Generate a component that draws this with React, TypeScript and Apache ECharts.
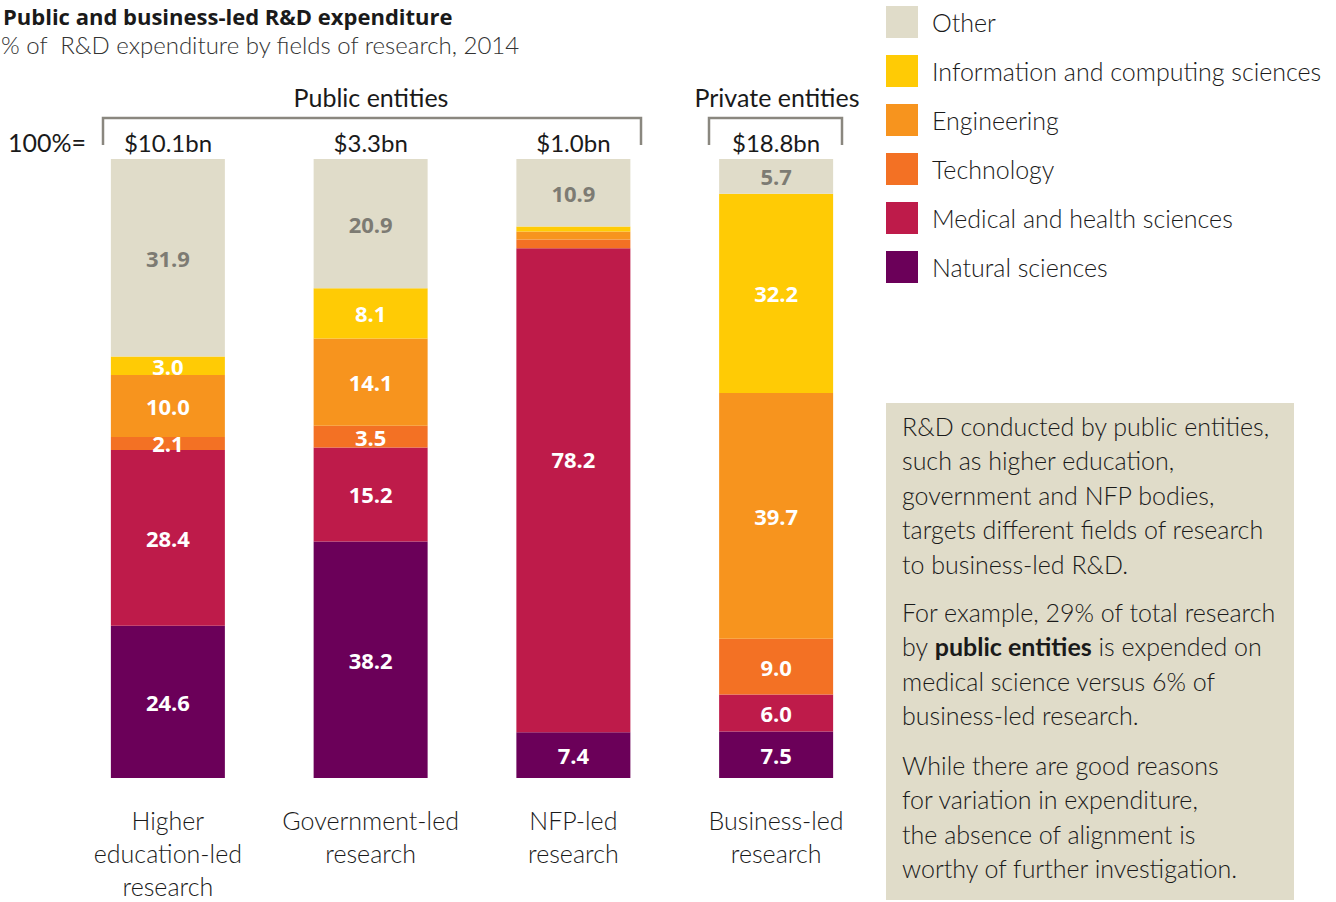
import React, { useEffect, useRef } from "react";
import * as echarts from "echarts";

const categories = ["Higher\neducation-led\nresearch", "Government-led\nresearch", "NFP-led\nresearch", "Business-led\nresearch"];
const totals = ["$10.1bn", "$3.3bn", "$1.0bn", "$18.8bn"];
const natural = [24.6, 38.2, 7.4, 7.5];
const medical = [28.4, 15.2, 78.2, 6.0];
const technology = [2.1, 3.5, 1.4, 9.0];
const engineering = [10.0, 14.1, 1.3, 39.7];
const information = [3.0, 8.1, 0.8, 32.2];
const other = [31.9, 20.9, 10.9, 5.7];

const FONT = "Lato";
const LBL = "Open Sans";
const TXT = "#1a1a1a";

export default function App() {
  const ref = useRef<HTMLDivElement>(null);
  useEffect(() => {
    if (!ref.current) return;
    const chart = echarts.init(ref.current, null, { renderer: "svg" });
    const seriesDef = [
      { name: "Natural sciences", data: natural, color: "#6b0059", lc: "#ffffff" },
      { name: "Medical and health sciences", data: medical, color: "#be1b4a", lc: "#ffffff" },
      { name: "Technology", data: technology, color: "#f37124", lc: "#ffffff" },
      { name: "Engineering", data: engineering, color: "#f7941e", lc: "#ffffff" },
      { name: "Information and computing sciences", data: information, color: "#ffcb05", lc: "#ffffff" },
      { name: "Other", data: other, color: "#e0dcc9", lc: "#7d7b73" },
    ];
    const bracket = { stroke: "#8a877f", lineWidth: 2.5, fill: "none" };
    const para = (lines: string[], y0: number) =>
      lines.map((t, i) => ({
        type: "text",
        left: 902,
        top: y0 + i * 34.6 - 15,
        style: {
          text: t,
          fill: TXT,
          font: `300 25px ${FONT}`,
          rich: { b: { fontWeight: "bold", fontSize: 25, fontFamily: FONT, fill: TXT } },
        },
      }));
    chart.setOption({
      animation: false,
      textStyle: { fontFamily: FONT },
      grid: { left: 66.5, right: 1336 - 877.5, top: 159, bottom: 124, outerBoundsMode: "none", containLabel: false },
      legend: {
        orient: "vertical",
        left: 886,
        top: 6,
        padding: 0,
        itemWidth: 32,
        itemHeight: 32,
        itemGap: 17,
        icon: "rect",
        data: [
          "Other",
          "Information and computing sciences",
          "Engineering",
          "Technology",
          "Medical and health sciences",
          "Natural sciences",
        ],
        textStyle: { fontFamily: FONT, fontSize: 25, fontWeight: 300, color: TXT, padding: [0, 0, 0, 9] },
        selectedMode: false,
      },
      xAxis: {
        type: "category",
        data: categories,
        axisLine: { show: false },
        axisTick: { show: false },
        axisLabel: {
          interval: 0,
          fontFamily: FONT,
          fontSize: 25,
          fontWeight: 300,
          color: TXT,
          lineHeight: 33,
          margin: 25,
        },
      },
      yAxis: { type: "value", min: 0, max: 100, show: false },
      series: seriesDef.map((s) => ({
        type: "bar",
        name: s.name,
        stack: "total",
        barWidth: 114,
        data: s.data.map((v, i) =>
          s.name === "Medical and health sciences" && i === 2
            ? { value: v, label: { offset: [0, -31] } }
            : v
        ),
        itemStyle: { color: s.color },
        label: {
          show: true,
          position: "inside",
          color: s.lc,
          fontFamily: LBL,
          fontWeight: "bold",
          fontSize: 22,
          formatter: (p: any) => (p.value >= 2 ? Number(p.value).toFixed(1) : ""),
        },
      })),
      graphic: [
        {
          type: "text",
          x: 3,
          y: 16,
          style: {
            text: "Public and business-led R&D expenditure",
            font: `bold 22px ${LBL}`,
            lineHeight: 24,
            fill: TXT,
            verticalAlign: "middle",
          },
        },
        {
          type: "text",
          x: 1,
          y: 44,
          style: {
            text: "% of  R&D expenditure by fields of research, 2014",
            font: `300 24px ${FONT}`,
            lineHeight: 26,
            fill: "#333",
            verticalAlign: "middle",
          },
        },
        {
          type: "text",
          x: 371,
          y: 97,
          style: { text: "Public entities", font: `400 25px ${FONT}`, fill: TXT, align: "center", verticalAlign: "middle" },
        },
        {
          type: "text",
          x: 777,
          y: 97,
          style: { text: "Private entities", font: `400 25px ${FONT}`, fill: TXT, align: "center", verticalAlign: "middle" },
        },
        { type: "polyline", shape: { points: [[103, 145], [103, 118], [641, 118], [641, 145]] }, style: bracket },
        { type: "polyline", shape: { points: [[709, 145], [709, 118], [842, 118], [842, 145]] }, style: bracket },
        {
          type: "text",
          x: 8,
          y: 142,
          style: { text: "100%=", font: `400 25px ${FONT}`, fill: TXT, verticalAlign: "middle" },
        },
        ...totals.map((t, i) => ({
          type: "text",
          x: 168 + i * 202.7,
          y: 142,
          style: { text: t, font: `400 24px ${FONT}`, fill: TXT, align: "center", verticalAlign: "middle" },
        })),
        { type: "rect", shape: { x: 886, y: 403, width: 408, height: 497 }, style: { fill: "#e0dcc9" } },
        ...para(
          [
            "R&D conducted by public entities,",
            "such as higher education,",
            "government and NFP bodies,",
            "targets different fields of research",
            "to business-led R&D.",
          ],
          428
        ),
        ...para(
          [
            "For example, 29% of total research",
            "by {b|public entities} is expended on",
            "medical science versus 6% of",
            "business-led research.",
          ],
          614
        ),
        ...para(
          [
            "While there are good reasons",
            "for variation in expenditure,",
            "the absence of alignment is",
            "worthy of further investigation.",
          ],
          767
        ),
      ],
    });
    return () => chart.dispose();
  }, []);
  return <div ref={ref} style={{ position: "absolute", left: 0, top: 0, width: 1336, height: 902 }} />;
}
